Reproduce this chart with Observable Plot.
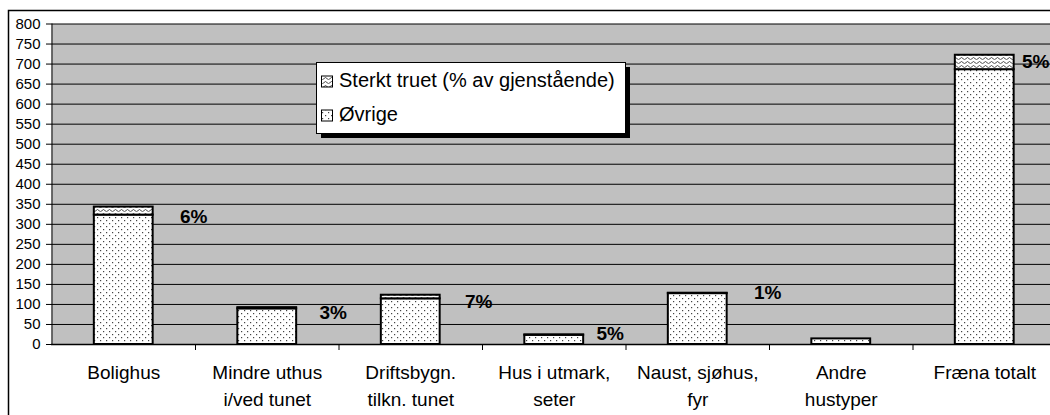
<!DOCTYPE html>
<html>
<head>
<meta charset="utf-8">
<script src="https://cdn.jsdelivr.net/npm/d3@7"></script>
<script src="https://cdn.jsdelivr.net/npm/@observablehq/plot@0.6"></script>
<style>
  html, body { margin: 0; padding: 0; background: #fff; overflow: hidden; }
  #chart { position: relative; width: 1050px; height: 415px; }
</style>
</head>
<body>
<div id="chart"></div>
<script>
// ---------- data ----------
const categories = [
  "Bolighus",
  "Mindre uthus\ni/ved tunet",
  "Driftsbygn.\ntilkn. tunet",
  "Hus i utmark,\nseter",
  "Naust, sjøhus,\nfyr",
  "Andre\nhustyper",
  "Fræna totalt"
];
const ovrige      = [323, 89, 114, 23, 127, 14, 686];
const sterktTruet = [20,   3,   9,  1,   1,  0,  36];
const pctLabels   = ["6%", "3%", "7%", "5%", "1%", "", "5%"];
const yTicks      = [0, 50, 100, 150, 200, 250, 300, 350, 400, 450, 500, 550, 600, 650, 700, 750, 800];
const seriesNames = ["Sterkt truet (% av gjenstående)", "Øvrige"];

const rows = categories.map((cat, i) => ({
  cat,
  ovr: ovrige[i],
  truet: sterktTruet[i],
  total: ovrige[i] + sterktTruet[i],
  pct: pctLabels[i]
}));

// ---------- layout / style ----------
const W = 1050, H = 415;
const plotLeft = 51.5, plotRight = 1056, plotTop = 23.5, plotBottom = 344;
const step = (plotRight - plotLeft) / categories.length;
const grey = "#c0c0c0";
const font = "Arial, 'Liberation Sans', Helvetica, sans-serif";
// per-label nudges (pixels) as placed in the original chart
const labelNudge = [[70, 9.5], [66, 5], [68, 6.5], [56, -1], [70, 0], [0, 0], [51, 7]];

const labelMarks = rows
  .map((d, i) => ({d, i}))
  .filter(({d}) => d.pct)
  .map(({d, i}) => Plot.text([d], {
    x: "cat", y: "total", text: "pct",
    dx: labelNudge[i][0], dy: labelNudge[i][1],
    fontSize: 19, fontWeight: "bold", fill: "#000",
    ariaLabel: "pct-label"
  }));

const svg = Plot.plot({
  width: W, height: H,
  marginLeft: 51, marginRight: 0, marginTop: plotTop, marginBottom: H - plotBottom,
  style: { fontFamily: font, fontSize: "15px", background: "white", overflow: "hidden", color: "#000" },
  x: { domain: categories, range: [plotLeft, plotRight], paddingInner: 0.59, paddingOuter: 0.295, round: false, axis: null },
  y: { domain: [0, 800], range: [plotBottom, plotTop], ticks: yTicks, tickSize: 5, tickPadding: 6, label: null, tickFormat: d => String(d) },
  marks: [
    Plot.frame({ fill: grey, stroke: "none" }),
    Plot.ruleY(yTicks.filter(v => v > 0), { stroke: "#000", strokeWidth: 1 }),
    Plot.barY(rows, { x: "cat", y1: 0, y2: "ovr", fill: "url(#pat-dots)", stroke: "#000", strokeWidth: 2 }),
    Plot.barY(rows.filter(d => d.truet > 0), { x: "cat", y1: "ovr", y2: "total", fill: "url(#pat-wave)", stroke: "#000", strokeWidth: 2 }),
    Plot.ruleY([0], { stroke: "#000", strokeWidth: 1.5 }),
    Plot.ruleX([categories[0]], { x: d => d, dx: -step / 2, y1: 0, y2: 800, stroke: "#000", strokeWidth: 1 }),
    Plot.ruleX(categories.slice(0, -1), { x: d => d, dx: step / 2, y1: 0, y2: -15, stroke: "#000", strokeWidth: 1 }),
    Plot.text(rows, { x: "cat", y: 0, text: "cat", dy: 15.5, lineAnchor: "top", lineHeight: 1.42, fontSize: 19, fill: "#000" }),
    ...labelMarks
  ]
});

document.getElementById("chart").appendChild(svg);

// ---------- patterns ----------
const root = d3.select(svg);
const defs = root.insert("defs", ":first-child");
const dots = defs.append("pattern").attr("id", "pat-dots").attr("patternUnits", "userSpaceOnUse")
  .attr("width", 6).attr("height", 6);
dots.append("rect").attr("width", 6).attr("height", 6).attr("fill", "#fff");
dots.append("rect").attr("x", 1).attr("y", 1).attr("width", 1.2).attr("height", 1.2).attr("fill", "#444");
dots.append("rect").attr("x", 4).attr("y", 4).attr("width", 1.2).attr("height", 1.2).attr("fill", "#444");

const wave = defs.append("pattern").attr("id", "pat-wave").attr("patternUnits", "userSpaceOnUse")
  .attr("width", 6).attr("height", 4);
wave.append("rect").attr("width", 6).attr("height", 4).attr("fill", "#fff");
wave.append("path").attr("d", "M0,2.6 Q1.5,0.4 3,2.6 T6,2.6").attr("fill", "none").attr("stroke", "#222").attr("stroke-width", 0.8);

// ---------- grey boxes behind percentage labels ----------
root.selectAll("g[aria-label='pct-label'] text").each(function () {
  const b = this.getBBox();
  const padX = 5, padY = 3;
  d3.select(this.parentNode).insert("rect", () => this)
    .attr("x", b.x - padX).attr("y", b.y - padY)
    .attr("width", b.width + 2 * padX).attr("height", b.height + 2 * padY)
    .attr("transform", this.getAttribute("transform"))
    .attr("fill", grey);
});

// ---------- legend (inside the plot area) ----------
const lg = root.append("g")
  .attr("font-family", font).attr("font-size", 20)
  .attr("text-anchor", "start").style("font-size", "20px");
const lx = 316, ly = 62, lw = 309, lh = 71;
lg.append("rect").attr("x", lx + 5).attr("y", ly + 5).attr("width", lw).attr("height", lh).attr("fill", "#000");
lg.append("rect").attr("x", lx + 0.5).attr("y", ly + 0.5).attr("width", lw).attr("height", lh)
  .attr("fill", "#fff").attr("stroke", "#000").attr("stroke-width", 1);
const legendFills = ["url(#pat-wave)", "url(#pat-dots)"];
const legendRows = [80, 114];
seriesNames.forEach((name, i) => {
  const cy = legendRows[i];
  lg.append("rect").attr("x", 321.5).attr("y", cy - 4).attr("width", 11).attr("height", 11)
    .attr("fill", legendFills[i]).attr("stroke", "#000").attr("stroke-width", 1);
  lg.append("text").attr("x", 339).attr("y", cy + 7).attr("fill", "#000")
    .attr("text-anchor", "start").text(name);
});

// ---------- outer chart border ----------
root.append("rect").attr("x", 8.5).attr("y", 10.5).attr("width", 1100).attr("height", 500)
  .attr("fill", "none").attr("stroke", "#000").attr("stroke-width", 1.5);
</script>
</body>
</html>
